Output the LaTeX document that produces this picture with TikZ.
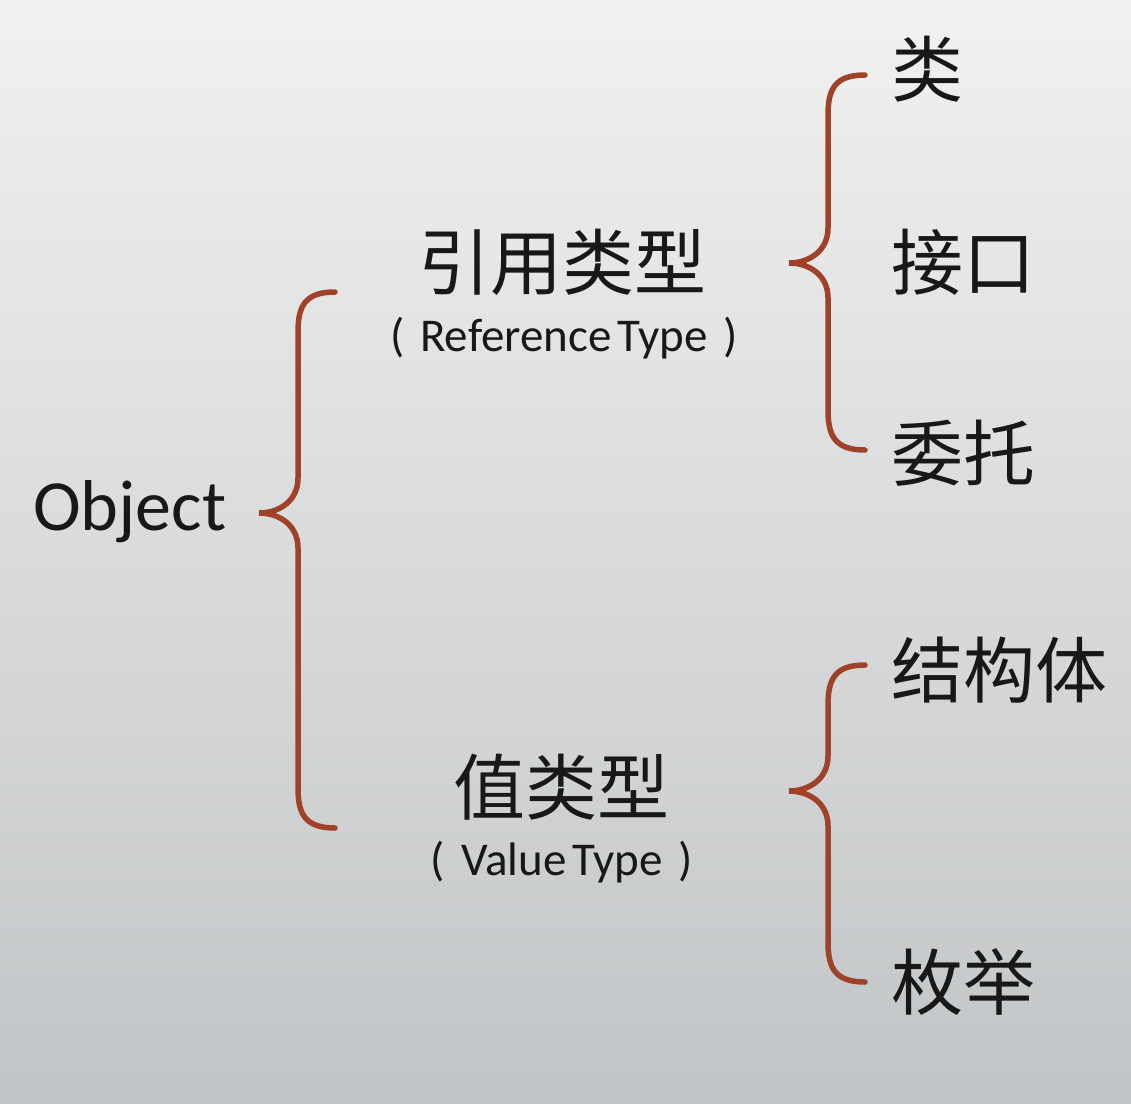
\documentclass[tikz,border=0pt]{standalone}
\usepackage{fontspec}
\setmainfont{Carlito}
\newfontfamily\cjk{Noto Sans CJK SC}
\usepackage{tikz}
\usepackage{xcolor}
\usetikzlibrary{positioning,calc}

\definecolor{bracered}{RGB}{160,66,40}
\definecolor{inkblack}{RGB}{24,24,24}
\definecolor{bgtop}{RGB}{241,241,241}
\definecolor{bgbottom}{RGB}{194,197,199}

% tip x, tip y, top y, bottom y
\newcommand{\curlybrace}[4]{%
  \draw[brace] (#1+76,#3) .. controls (#1+46,#3) and (#1+39,#3+14) .. (#1+39,#3+40)
    -- (#1+39,#2-35) .. controls (#1+39,#2-12) and (#1+20,#2) .. (#1,#2)
    .. controls (#1+20,#2) and (#1+39,#2+12) .. (#1+39,#2+35)
    -- (#1+39,#4-40) .. controls (#1+39,#4-14) and (#1+46,#4) .. (#1+76,#4);}
\newcommand{\engloss}[2]{(\hspace{16pt}#1\hspace{6pt}#2\hspace{16pt})}

\begin{document}
\begin{tikzpicture}[x=1pt, y=-1pt,
    brace/.style={draw=bracered, line width=5.5pt, line cap=round},
    zh/.style={inner sep=0pt, text=inkblack, font=\cjk\fontsize{72}{80}\selectfont},
    en/.style={inner sep=0pt, text=inkblack, font=\fontsize{72}{80}\selectfont},
    ensmall/.style={inner sep=0pt, text=inkblack, font=\fontsize{47}{54}\selectfont}]
    % background
    \shade[top color=bgtop, bottom color=bgbottom] (0,0) rectangle (1131,1103);
    \useasboundingbox (0,0) rectangle (1131,1103);

    % root
    \node[en, anchor=base west] (obj) at (33,530) {Object};

    % second level
    \node[zh] (reftype) at (562,262) {引用类型};
    \node[ensmall] (reftypeen) at (564,338) {\engloss{Reference}{Type}};
    \node[zh] (valtype) at (561,787) {值类型};
    \node[ensmall] (valtypeen) at (562,862) {\engloss{Value}{Type}};

    % leaves
    \node[zh, anchor=west] (cls) at (891,69) {类};
    \node[zh, anchor=west] (iface) at (891,262) {接口};
    \node[zh, anchor=west] (dlg) at (891,453) {委托};
    \node[zh, anchor=west] (strct) at (891,670) {结构体};
    \node[zh, anchor=west] (enm) at (891,982) {枚举};

    % braces
    \curlybrace{259}{513}{292}{828}
    \curlybrace{789}{263}{75}{450}
    \curlybrace{789}{791}{665}{982}
\end{tikzpicture}
\end{document}
